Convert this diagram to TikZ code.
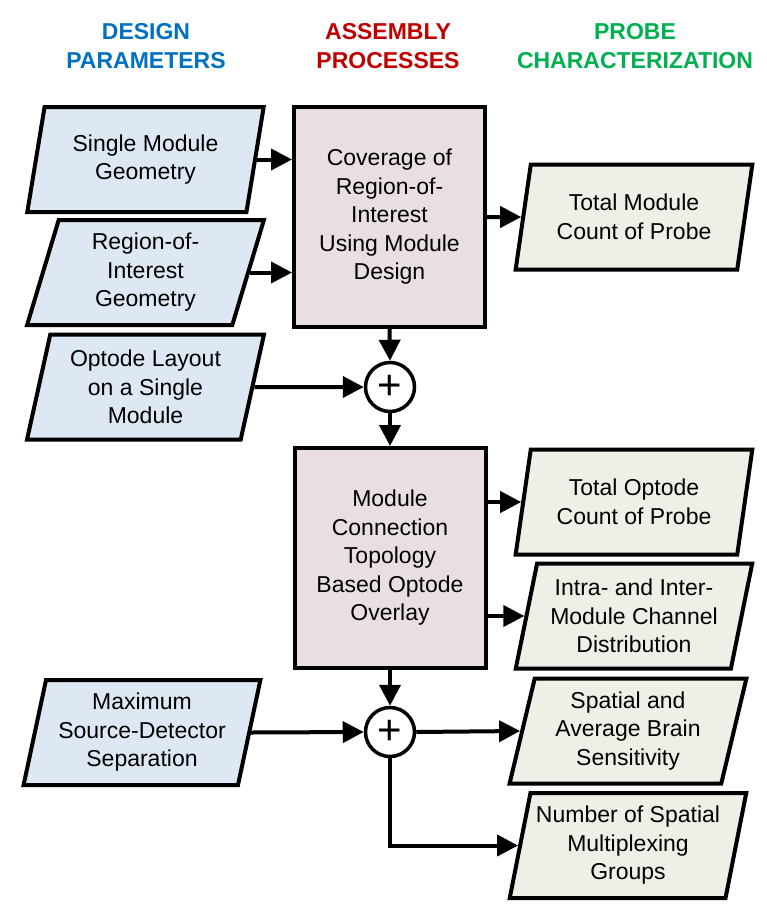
\documentclass[tikz,border=0pt]{standalone}
\usepackage{fontspec}
\setmainfont{Liberation Sans}
\usetikzlibrary{shapes.geometric,arrows.meta}
\definecolor{dpblue}{HTML}{0070C0}
\definecolor{apred}{HTML}{C00000}
\definecolor{pcgreen}{HTML}{00B050}
\definecolor{infill}{HTML}{DEE8F4}
\definecolor{procfill}{HTML}{E9DFE3}
\definecolor{outfill}{HTML}{EEF0E8}
\begin{document}
\begin{tikzpicture}[x=1pt,y=-1pt,
 base/.style={font=\fontsize{23}{28.5}\selectfont, align=center, inner sep=0pt, line width=4pt},
 para/.style={base, draw, trapezium, trapezium left angle=76, trapezium right angle=104,
   trapezium stretches=true, minimum width=237pt, minimum height=105pt},
 inp/.style={para, fill=infill},
 outp/.style={para, fill=outfill},
 proc/.style={base, draw, fill=procfill, minimum width=191pt, minimum height=220pt},
 sum/.style={draw, circle, fill=white, line width=3.5pt, minimum size=49pt, inner sep=0pt,
   font=\fontsize{42}{42}\selectfont},
 conn/.style={line width=4pt, -{Triangle[length=21pt,width=21pt]}},
 hdr/.style={font=\fontsize{23}{29}\selectfont\bfseries, align=center}
]
\useasboundingbox (0,0) rectangle (767,921);
\node[hdr, text=dpblue] (h1) at (146,46.5) {DESIGN\\PARAMETERS};
\node[hdr, text=apred] (h2) at (388,46.5) {ASSEMBLY\\PROCESSES};
\node[hdr, text=pcgreen] (h3) at (635,46.5) {PROBE\\CHARACTERIZATION};

\node[inp] (i1) at (145.5,159.5) {Single Module\\Geometry};
\node[inp] (i2) at (145.5,272.5) {Region-of-\\Interest\\Geometry};
\node[inp] (i3) at (145.5,387) {Optode Layout\\on a Single\\Module};
\node[inp] (i4) at (142,732.5) {Maximum\\Source-Detector\\Separation};

\node[proc] (p1) at (389.5,217) {Coverage of\\Region-of-\\Interest\\Using Module\\Design};
\node[proc] (p2) at (390,558) {Module\\Connection\\Topology\\Based Optode\\Overlay};

\node[sum] (s1) at (390,387) {+};
\node[sum] (s2) at (390,732) {+};

\node[outp] (o1) at (634,217) {Total Module\\Count of Probe};
\node[outp] (o2) at (634,502) {Total Optode\\Count of Probe};
\node[outp] (o3) at (634,616) {Intra- and Inter-\\Module Channel\\Distribution};
\node[outp] (o4) at (628,731) {Spatial and\\Average Brain\\Sensitivity};
\node[outp] (o5) at (628,845.5) {Number of Spatial\\Multiplexing\\Groups};

\draw[conn] (i1.east) -- (i1.east -| p1.west);
\draw[conn] (i2.east) -- (i2.east -| p1.west);
\draw[conn] (p1.east) -- (o1.west);
\draw[conn] (p1.south) -- (s1.north);
\draw[conn] (i3.east) -- (s1.west);
\draw[conn] (s1.south) -- (p2.north);
\draw[conn] (p2.east |- o2.west) -- (o2.west);
\draw[conn] (p2.east |- o3.west) -- (o3.west);
\draw[conn] (p2.south) -- (s2.north);
\draw[conn] (i4.east) -- (s2.west);
\draw[conn] (s2.east) -- (o4.west);
\draw[conn] (s2.south) |- (o5.west);
\end{tikzpicture}
\end{document}
